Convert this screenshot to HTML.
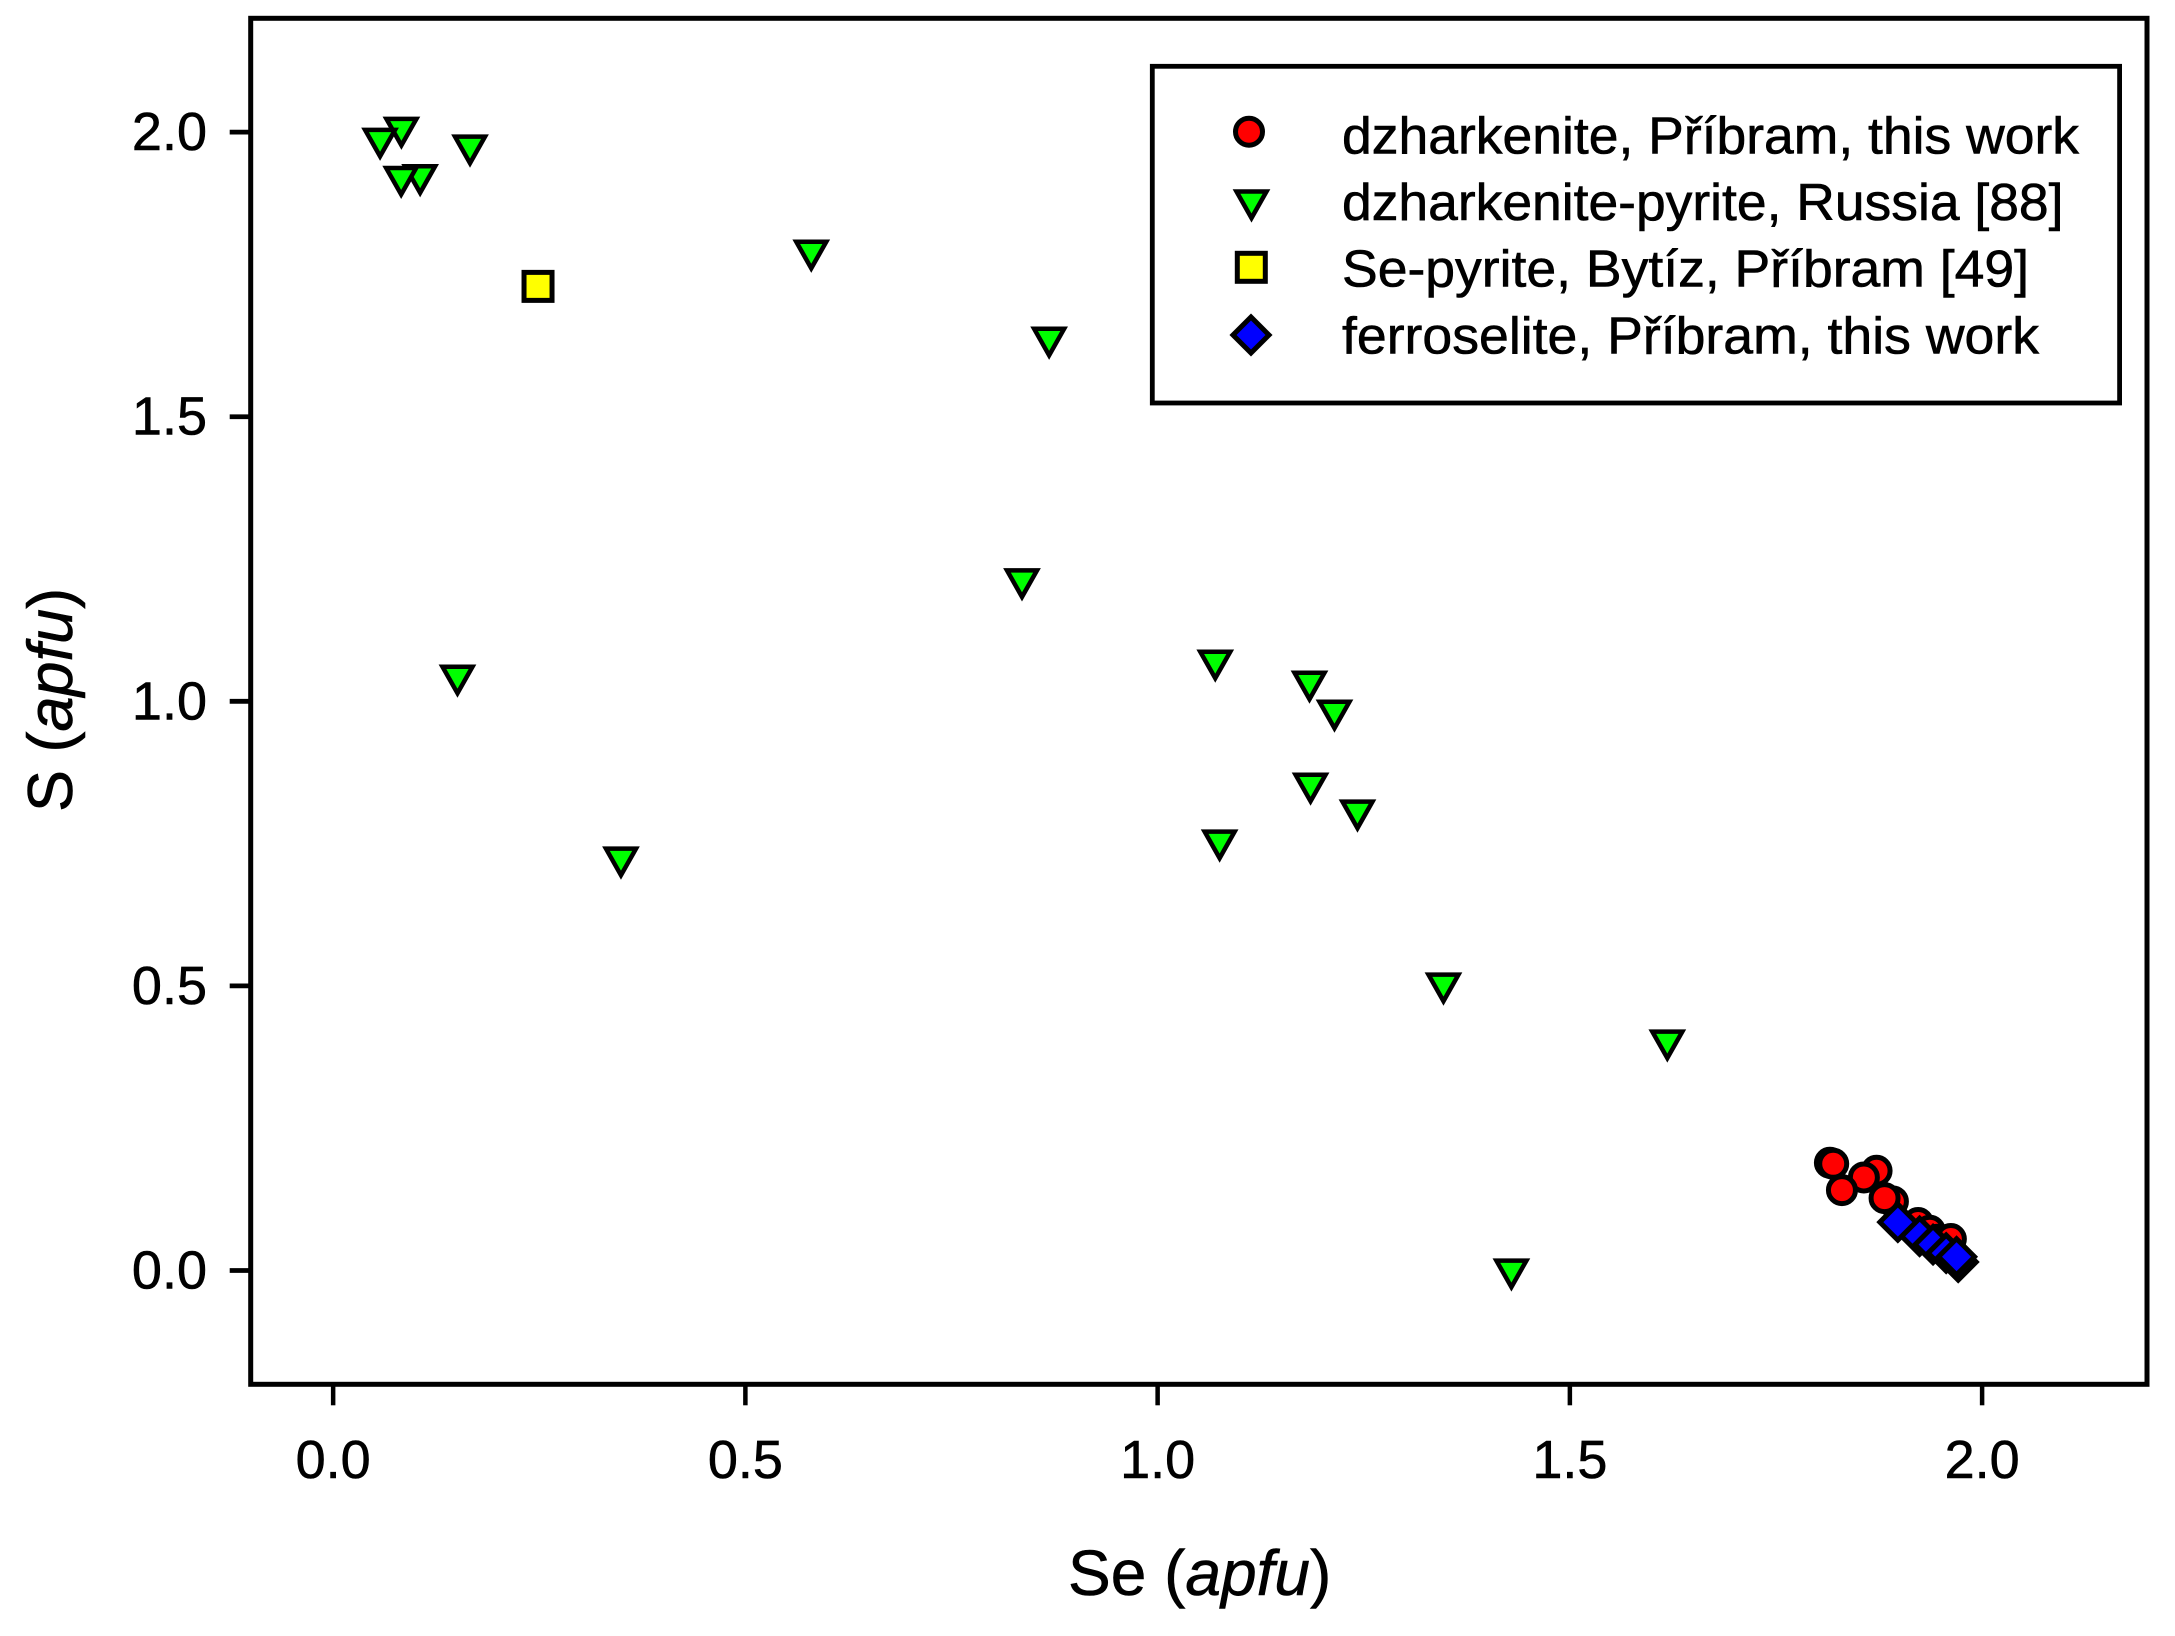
<!DOCTYPE html>
<html lang="en">
<head>
<meta charset="utf-8">
<title>Se vs S scatter plot</title>
<style>
html,body{margin:0;padding:0;background:#fff;width:2175px;height:1636px;overflow:hidden}
svg{display:block}
text{font-family:"Liberation Sans",sans-serif;fill:#000;stroke:#000;stroke-width:0.6px}
</style>
</head>
<body>
<svg id="chart" xmlns="http://www.w3.org/2000/svg" width="2175" height="1636" viewBox="0 0 2175 1636">
  <rect x="0" y="0" width="2175" height="1636" fill="#fff"/>
  <rect x="250.7" y="18.3" width="1896.3" height="1366" fill="none" stroke="#000" stroke-width="5"/>
  <g id="ticks"></g>
  <g id="marks"></g>
  <text x="1068" y="1595" font-size="64">Se (<tspan font-style="italic">apfu</tspan>)</text>
  <text transform="translate(72,812) rotate(-90)" x="0" y="0" font-size="63">S (<tspan font-style="italic">apfu</tspan>)</text>
  <g>
    <rect x="1152.3" y="66.3" width="967.3" height="336.7" fill="#fff" stroke="#000" stroke-width="4.8"/>
    <circle cx="1249" cy="131.7" r="13.5" fill="#ff0000" stroke="#000" stroke-width="5"/>
    <path transform="translate(1251.5,199.5)" d="M-15,-8 L15,-8 L0,18.5 Z" fill="#00ff00" stroke="#000" stroke-width="4.5"/>
    <rect x="1237.3" y="253.3" width="28" height="28" fill="#ffff00" stroke="#000" stroke-width="5"/>
    <path transform="translate(1251,335)" d="M0,-18 L18,0 L0,18 L-18,0 Z" fill="#0000ff" stroke="#000" stroke-width="5"/>
    <text x="1342" y="153.3" font-size="52" textLength="737" lengthAdjust="spacingAndGlyphs">dzharkenite, Příbram, this work</text>
    <text x="1342" y="220" font-size="52" textLength="721.5" lengthAdjust="spacingAndGlyphs">dzharkenite-pyrite, Russia [88]</text>
    <text x="1342" y="286.7" font-size="52" textLength="687" lengthAdjust="spacingAndGlyphs">Se-pyrite, Bytíz, Příbram [49]</text>
    <text x="1342" y="353.3" font-size="52" textLength="697" lengthAdjust="spacingAndGlyphs">ferroselite, Příbram, this work</text>
  </g>
</svg>
<script>
// Chart data
const xTickValues = [0, 0.5, 1, 1.5, 2];
const yTickValues = [0, 0.5, 1, 1.5, 2];
const xTickLabels = ["0.0", "0.5", "1.0", "1.5", "2.0"];
const yTickLabels = ["0.0", "0.5", "1.0", "1.5", "2.0"];

const dzharkeniteSe = [1.8154, 1.8194, 1.8720, 1.8566, 1.8300, 1.8918, 1.8817, 1.9224, 1.9366, 1.9463, 1.9621];
const dzharkeniteS  = [0.1892, 0.1874, 0.1751, 0.1634, 0.1412, 0.1212, 0.1272, 0.0833, 0.0697, 0.0539, 0.0552];

const pyriteRussiaSe = [0.1055, 0.0825, 0.0828, 0.0569, 0.1660, 0.5799, 0.8684, 0.8355, 0.1508, 0.3491, 1.0699, 1.1842, 1.2145, 1.1855, 1.2424, 1.0752, 1.3467, 1.6182, 1.4291];
const pyriteRussiaS  = [1.9260, 1.9230, 2.0093, 1.9900, 1.9780, 1.7933, 1.6404, 1.2159, 1.0467, 0.7270, 1.0731, 1.0362, 0.9852, 0.8570, 0.8096, 0.7569, 0.5057, 0.4056, 0.0033];

const sePyriteSe = [0.2485];
const sePyriteS  = [1.7290];

const ferroseliteSe = [1.9710, 1.9242, 1.9405, 1.9564, 1.9690, 1.8978];
const ferroseliteS  = [0.0148, 0.0601, 0.0455, 0.0306, 0.0241, 0.0850];

// Axis functions
const xDomain = [-0.1, 2.2];
const yDomain = [-0.2, 2.2];
const plotLeft = 250.7, plotRight = 2147, plotTop = 18.3, plotBottom = 1384.3;
function xScale(v) { return plotLeft + (v - xDomain[0]) / (xDomain[1] - xDomain[0]) * (plotRight - plotLeft); }
function yScale(v) { return plotBottom - (v - yDomain[0]) / (yDomain[1] - yDomain[0]) * (plotBottom - plotTop); }

const NS = "http://www.w3.org/2000/svg";
const ticksGroup = document.getElementById("ticks");
const marksGroup = document.getElementById("marks");

function make(tag, attrs, parent) {
  const el = document.createElementNS(NS, tag);
  for (const k in attrs) el.setAttribute(k, attrs[k]);
  parent.appendChild(el);
  return el;
}

xTickValues.forEach(function (v, i) {
  const px = xScale(v);
  const tick = make("line", { x1: px, x2: px, y1: plotBottom, y2: plotBottom + 21, stroke: "#000", "stroke-width": 4.5 }, ticksGroup);
  
  
  const label = make("text", { x: px, y: 1478, "font-size": 54, "text-anchor": "middle" }, ticksGroup);
  label.textContent = xTickLabels[i];
  
  
});

yTickValues.forEach(function (v, i) {
  const py = yScale(v);
  const tick = make("line", { x1: plotLeft - 21, x2: plotLeft, y1: py, y2: py, stroke: "#000", "stroke-width": 4.8 }, ticksGroup);
  
  
  const label = make("text", { x: 207, y: py + 18, "font-size": 54, "text-anchor": "end" }, ticksGroup);
  label.textContent = yTickLabels[i];
  
  
});

dzharkeniteSe.forEach(function (v, i) {
  const m = make("circle", { cx: xScale(v), cy: yScale(dzharkeniteS[i]), r: 13.5, fill: "#ff0000", stroke: "#000", "stroke-width": 5 }, marksGroup);
  
  
});

pyriteRussiaSe.forEach(function (v, i) {
  const m = make("path", { d: "M-15,-8 L15,-8 L0,18.5 Z", transform: "translate(" + xScale(v) + "," + yScale(pyriteRussiaS[i]) + ")", fill: "#00ff00", stroke: "#000", "stroke-width": 4.5 }, marksGroup);
  
  
});

sePyriteSe.forEach(function (v, i) {
  const m = make("rect", { x: xScale(v) - 14, y: yScale(sePyriteS[i]) - 14, width: 28, height: 28, fill: "#ffff00", stroke: "#000", "stroke-width": 5 }, marksGroup);
  
  
});

ferroseliteSe.forEach(function (v, i) {
  const m = make("path", { d: "M0,-18 L18,0 L0,18 L-18,0 Z", transform: "translate(" + xScale(v) + "," + yScale(ferroseliteS[i]) + ")", fill: "#0000ff", stroke: "#000", "stroke-width": 5 }, marksGroup);
  
  
});
</script>
</body>
</html>
